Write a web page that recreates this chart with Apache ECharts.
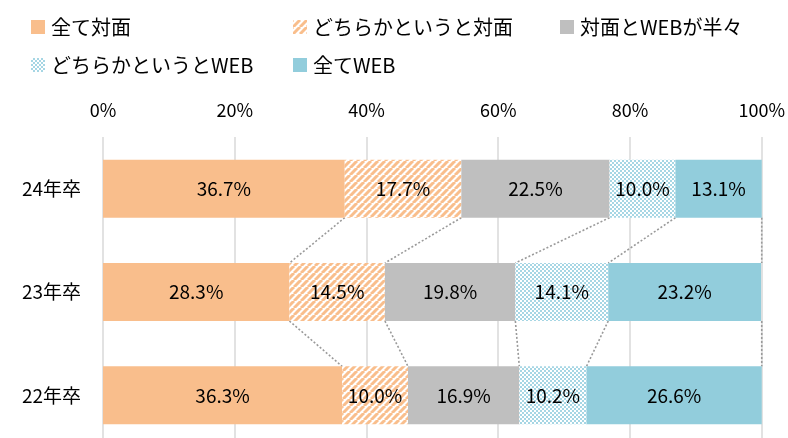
<!DOCTYPE html>
<html><head><meta charset="utf-8">
<script src="https://cdn.jsdelivr.net/npm/echarts@6/dist/echarts.min.js"></script>
<style>html,body{margin:0;padding:0;background:#fff;overflow:hidden;width:788px;height:438px}#c{width:788px;height:447px}</style>
</head><body><div id="c"></div>
<script>
const categories = ['24年卒', '23年卒', '22年卒'];
const seriesNames = ['全て対面', 'どちらかというと対面', '対面とWEBが半々', 'どちらかというとWEB', '全てWEB'];
const allFace = [36.7, 28.3, 36.3];
const ratherFace = [17.7, 14.5, 10.0];
const half = [22.5, 19.8, 16.9];
const ratherWeb = [10.0, 14.1, 10.2];
const allWeb = [13.1, 23.2, 26.6];
const xTicks = [0, 20, 40, 60, 80, 100];

const values = [allFace, ratherFace, half, ratherWeb, allWeb];
const FONT = '"Noto Sans CJK JP", "Noto Sans", sans-serif';
const BAR_W = 58;

function hatch() {
  const c = document.createElement('canvas'); c.width = 7; c.height = 7;
  const g = c.getContext('2d');
  g.fillStyle = '#fff'; g.fillRect(0, 0, 7, 7);
  g.strokeStyle = '#F9BE8C'; g.lineWidth = 3;
  [-7, 0, 7].forEach(o => { g.beginPath(); g.moveTo(o, 7); g.lineTo(o + 7, 0); g.stroke(); });
  return c;
}
function dots() {
  const c = document.createElement('canvas'); c.width = 4; c.height = 4;
  const g = c.getContext('2d');
  g.fillStyle = '#A6D6E4'; g.fillRect(0, 0, 4, 4);
  g.fillStyle = '#fff'; g.fillRect(0, 0, 2, 2); g.fillRect(2, 2, 2, 2);
  return c;
}
const colors = ['#F9BE8C', { image: hatch(), repeat: 'repeat' }, '#BFBFBF', { image: dots(), repeat: 'repeat' }, '#92CDDC'];

// cumulative boundaries for connectors
const cum = categories.map((_, i) => { let s = 0; return values.map(v => (s += v[i])); });
const connectors = [];
for (let i = 0; i < categories.length - 1; i++) {
  for (let k = 0; k < seriesNames.length; k++) {
    const a = k === seriesNames.length - 1 ? 100 : cum[i][k];
    const b = k === seriesNames.length - 1 ? 100 : cum[i + 1][k];
    connectors.push([a, i, b, i + 1]);
  }
}

const barSeries = seriesNames.map((n, k) => ({
  name: n, type: 'bar', stack: 'all', barWidth: BAR_W,
  itemStyle: { color: colors[k] },
  label: { show: true, position: 'inside', color: '#000', fontSize: 19, fontFamily: FONT,
    formatter: p => p.value.toFixed(1) + '%' },
  data: values[k], z: 3
}));

const legendPos = [[26, 12], [288, 12], [555, 12], [26, 50], [288, 50]];
const legends = seriesNames.map((n, k) => ({
  data: [n], left: legendPos[k][0], top: legendPos[k][1], icon: 'rect', itemWidth: 14, itemHeight: 14, itemGap: 0,
  textStyle: { fontSize: 20, color: '#000', fontFamily: FONT, padding: [0, 0, 0, 1] }
}));

const chart = echarts.init(document.getElementById('c'));
chart.setOption({
  animation: false,
  legend: legends,
  grid: { left: 103, right: 25, top: 137, bottom: 0, containLabel: false },
  xAxis: {
    type: 'value', position: 'top', min: 0, max: 100, interval: 20,
    axisLine: { show: false }, axisTick: { show: false },
    axisLabel: { formatter: v => xTicks.includes(v) ? v + '%' : '', fontSize: 18, color: '#000', fontFamily: FONT, margin: 18 },
    splitLine: { lineStyle: { color: '#D9D9D9', width: 1.5 } }
  },
  yAxis: {
    type: 'category', inverse: true, data: categories,
    axisLine: { show: false }, axisTick: { show: false },
    axisLabel: { fontSize: 19, color: '#000', fontFamily: FONT, margin: 22 }
  },
  series: barSeries.concat([{
    type: 'custom', silent: true, z: 2,
    encode: { x: [0, 2], y: [1, 3] },
    renderItem: (params, api) => {
      const p1 = api.coord([api.value(0), api.value(1)]);
      const p2 = api.coord([api.value(2), api.value(3)]);
      return { type: 'line', shape: { x1: p1[0], y1: p1[1] + BAR_W / 2, x2: p2[0], y2: p2[1] - BAR_W / 2 },
        style: { stroke: '#9A9A9A', lineWidth: 1.6, lineDash: [2, 2] } };
    },
    data: connectors
  }])
});
</script></body></html>
